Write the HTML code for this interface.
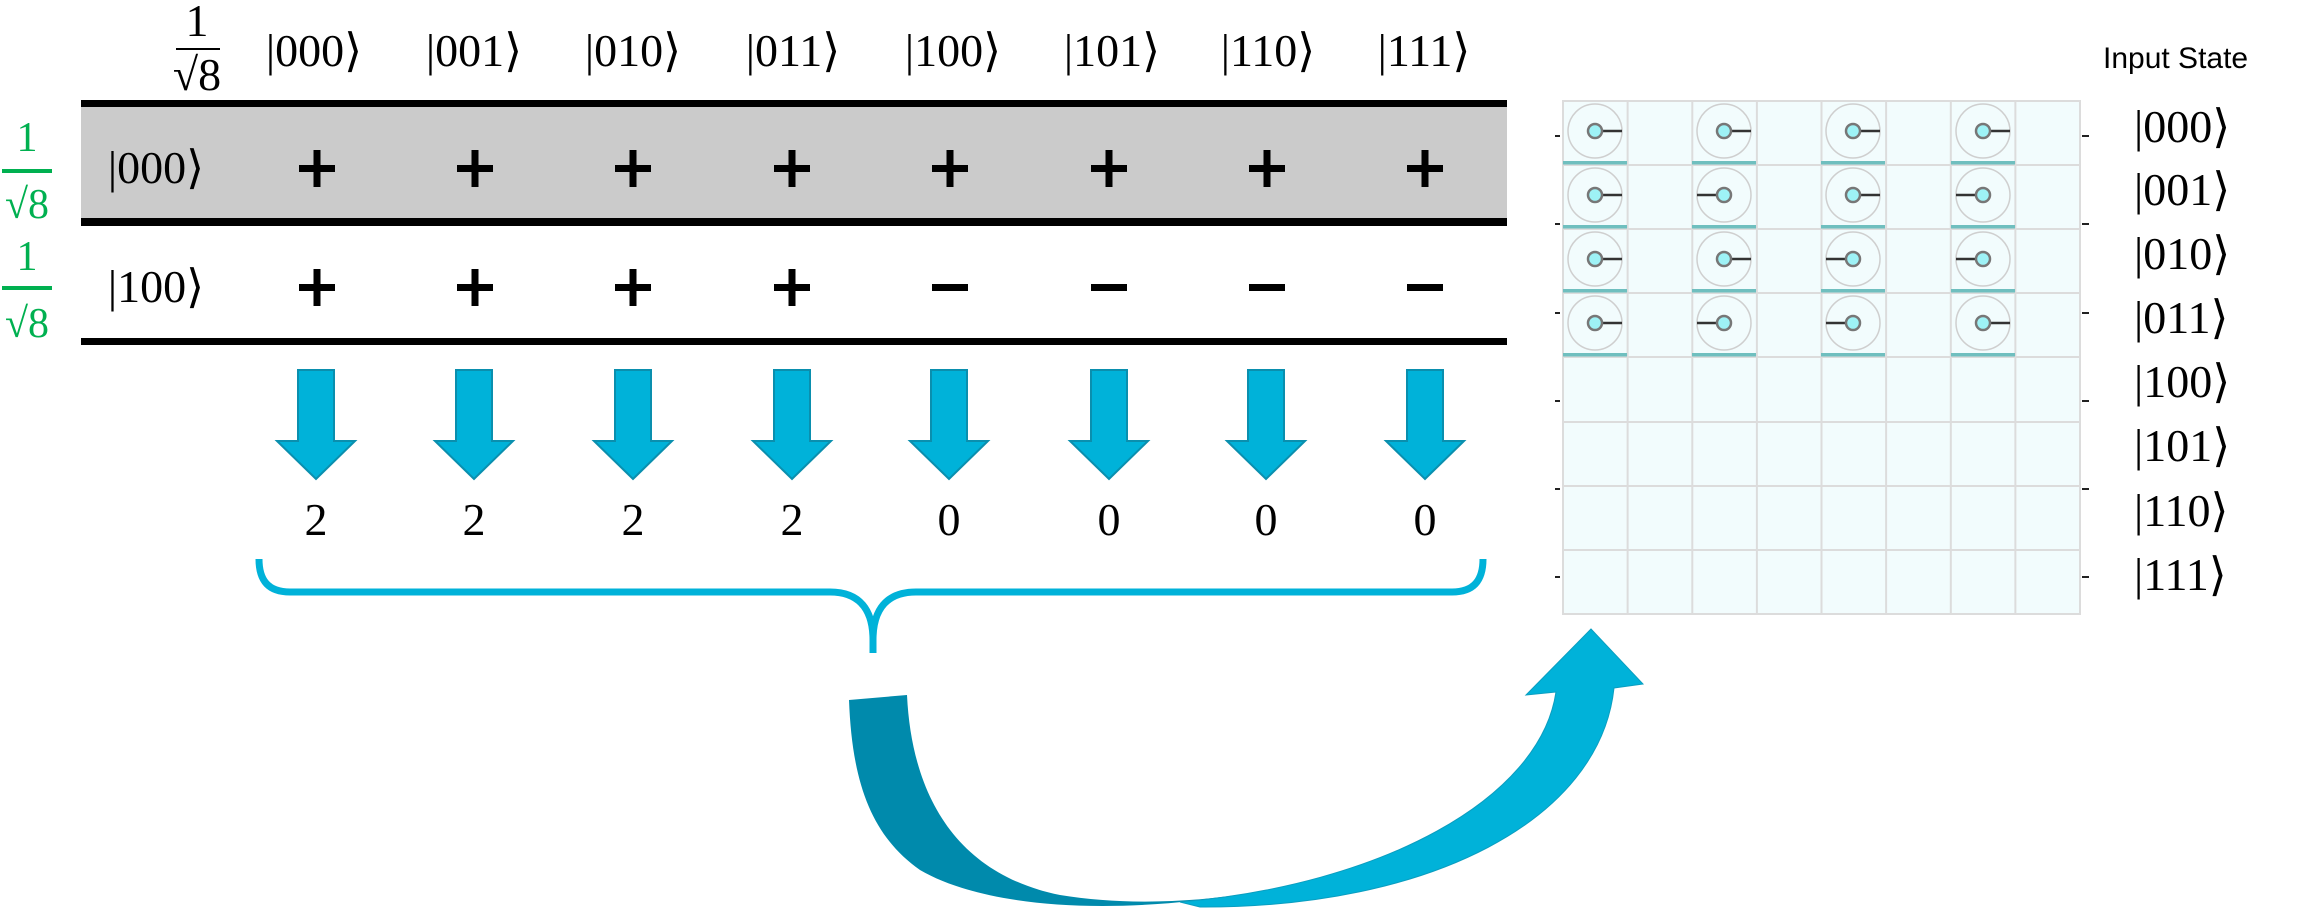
<!DOCTYPE html>
<html><head><meta charset="utf-8"><style>
html,body{margin:0;padding:0;background:#fff;}
svg{display:block;}
.k{font-family:"Liberation Serif",serif;font-size:46px;fill:#000;}
</style></head><body>
<svg width="2298" height="913" viewBox="0 0 2298 913" xmlns="http://www.w3.org/2000/svg">
<defs>
<g id="p"><rect x="-18" y="-3" width="36" height="7"/><rect x="-3.5" y="-18" width="7" height="37"/></g>
<g id="R"><circle cx="0" cy="0" r="27" fill="none" stroke="#cfcfcf" stroke-width="1.5"/><line x1="0" y1="0" x2="27" y2="0" stroke="#333" stroke-width="2.5"/><circle r="7" fill="#9ef2f6" stroke="#777" stroke-width="2.5"/><rect x="-32" y="30" width="64" height="3.5" fill="#6fbfbf"/></g>
<g id="L"><circle cx="0" cy="0" r="27" fill="none" stroke="#cfcfcf" stroke-width="1.5"/><line x1="0" y1="0" x2="-27" y2="0" stroke="#333" stroke-width="2.5"/><circle r="7" fill="#9ef2f6" stroke="#777" stroke-width="2.5"/><rect x="-32" y="30" width="64" height="3.5" fill="#6fbfbf"/></g>
</defs>
<!-- table -->
<rect x="81" y="107" width="1426" height="111" fill="#cbcbcb"/>
<rect x="81" y="100" width="1426" height="7" fill="#000"/>
<rect x="81" y="218" width="1426" height="8" fill="#000"/>
<rect x="81" y="338" width="1426" height="7" fill="#000"/>
<!-- header fraction -->
<text x="197" y="36" class="k" font-size="32" text-anchor="middle">1</text>
<rect x="176" y="48" width="44" height="2" fill="#000"/>
<text x="197" y="90" class="k" font-size="32" text-anchor="middle">√8</text>
<g class="k" text-anchor="middle">
<text x="314" y="66">|000⟩</text><text x="474" y="66">|001⟩</text><text x="633" y="66">|010⟩</text><text x="793" y="66">|011⟩</text>
<text x="953" y="66">|100⟩</text><text x="1112" y="66">|101⟩</text><text x="1268" y="66">|110⟩</text><text x="1424" y="66">|111⟩</text>
<text x="156" y="183">|000⟩</text><text x="156" y="302">|100⟩</text>
</g>
<!-- green fractions -->
<g fill="#00b050" font-family="Liberation Serif,serif" font-size="42" text-anchor="middle">
<text x="27" y="151">1</text><rect x="2" y="169" width="50" height="4"/><text x="27" y="218">√8</text>
<text x="27" y="270">1</text><rect x="2" y="286" width="50" height="4"/><text x="27" y="337">√8</text>
</g>
<!-- plus/minus -->
<g fill="#000">
<use href="#p" x="317" y="168"/><use href="#p" x="475" y="168"/><use href="#p" x="633" y="168"/><use href="#p" x="792" y="168"/>
<use href="#p" x="950" y="168"/><use href="#p" x="1109" y="168"/><use href="#p" x="1267" y="168"/><use href="#p" x="1425" y="168"/>
<use href="#p" x="317" y="287"/><use href="#p" x="475" y="287"/><use href="#p" x="633" y="287"/><use href="#p" x="792" y="287"/>
<rect x="932" y="284" width="36" height="7"/><rect x="1091" y="284" width="36" height="7"/><rect x="1249" y="284" width="36" height="7"/><rect x="1407" y="284" width="36" height="7"/>
</g>
<!-- down arrows -->
<g fill="#00b2d9" stroke="#0a8fae" stroke-width="2">
<path id="a" d="M-18 370 H18 V441 H39 L0 479 L-39 441 H-18 Z" transform="translate(316,0)"/>
<use href="#a" x="158"/><use href="#a" x="317"/><use href="#a" x="476"/><use href="#a" x="633"/><use href="#a" x="793"/><use href="#a" x="950"/><use href="#a" x="1109"/>
</g>
<g class="k" text-anchor="middle">
<text x="316" y="535">2</text><text x="474" y="535">2</text><text x="633" y="535">2</text><text x="792" y="535">2</text>
<text x="949" y="535">0</text><text x="1109" y="535">0</text><text x="1266" y="535">0</text><text x="1425" y="535">0</text>
</g>
<!-- brace -->
<path d="M259 559 C259 580 268 592 290 592 H830 C860 592 873 610 873 640 V653 M873 640 C873 610 886 592 916 592 H1452 C1474 592 1483 580 1483 559" fill="none" stroke="#00b2d9" stroke-width="7"/>
<!-- curved arrow -->
<path d="M849 700 L907 695 C912 800 960 875 1060 895 C1120 905 1190 903 1250 893 C1100 918 980 905 920 870 C870 835 852 780 849 700 Z" fill="#008aac"/>
<path d="M1180 902 C1380 885 1540 800 1556 692 L1526 695 L1591 629 L1643 684 L1614 688 C1600 820 1430 908 1200 907 Z" fill="#00b2d9" stroke="#0a9ec0" stroke-width="1"/>
<!-- grid -->
<rect x="1563" y="101" width="517" height="513" fill="#f2fcfd" stroke="#dcdcdc" stroke-width="2"/>
<g stroke="#dcdcdc" stroke-width="2">
<line x1="1627.6" y1="101" x2="1627.6" y2="614"/><line x1="1692.3" y1="101" x2="1692.3" y2="614"/><line x1="1756.9" y1="101" x2="1756.9" y2="614"/><line x1="1821.5" y1="101" x2="1821.5" y2="614"/><line x1="1886.1" y1="101" x2="1886.1" y2="614"/><line x1="1950.8" y1="101" x2="1950.8" y2="614"/><line x1="2015.4" y1="101" x2="2015.4" y2="614"/>
<line x1="1563" y1="165" x2="2080" y2="165"/><line x1="1563" y1="229" x2="2080" y2="229"/><line x1="1563" y1="293" x2="2080" y2="293"/><line x1="1563" y1="357" x2="2080" y2="357"/><line x1="1563" y1="422" x2="2080" y2="422"/><line x1="1563" y1="486" x2="2080" y2="486"/><line x1="1563" y1="550" x2="2080" y2="550"/>
</g>
<use href="#R" x="1595" y="131"/><use href="#R" x="1724" y="131"/><use href="#R" x="1853" y="131"/><use href="#R" x="1983" y="131"/>
<use href="#R" x="1595" y="195"/><use href="#L" x="1724" y="195"/><use href="#R" x="1853" y="195"/><use href="#L" x="1983" y="195"/>
<use href="#R" x="1595" y="259"/><use href="#R" x="1724" y="259"/><use href="#L" x="1853" y="259"/><use href="#L" x="1983" y="259"/>
<use href="#R" x="1595" y="323"/><use href="#L" x="1724" y="323"/><use href="#L" x="1853" y="323"/><use href="#R" x="1983" y="323"/>
<g stroke="#222" stroke-width="2">
<line x1="1555" y1="136" x2="1560" y2="136"/><line x1="1555" y1="224" x2="1560" y2="224"/><line x1="1555" y1="313" x2="1560" y2="313"/><line x1="1555" y1="401" x2="1560" y2="401"/><line x1="1555" y1="489" x2="1560" y2="489"/><line x1="1555" y1="577" x2="1560" y2="577"/>
<line x1="2082" y1="136" x2="2089" y2="136"/><line x1="2082" y1="224" x2="2089" y2="224"/><line x1="2082" y1="313" x2="2089" y2="313"/><line x1="2082" y1="401" x2="2089" y2="401"/><line x1="2082" y1="489" x2="2089" y2="489"/><line x1="2082" y1="577" x2="2089" y2="577"/>
</g>
<g class="k" font-size="34">
<text x="2134" y="142">|000⟩</text><text x="2134" y="205">|001⟩</text><text x="2134" y="269">|010⟩</text><text x="2134" y="333">|011⟩</text>
<text x="2134" y="397">|100⟩</text><text x="2134" y="461">|101⟩</text><text x="2134" y="526">|110⟩</text><text x="2134" y="590">|111⟩</text>
</g>
<text x="2103" y="68" font-family="Liberation Sans,sans-serif" font-size="30" fill="#000">Input State</text>
</svg>
</body></html>
